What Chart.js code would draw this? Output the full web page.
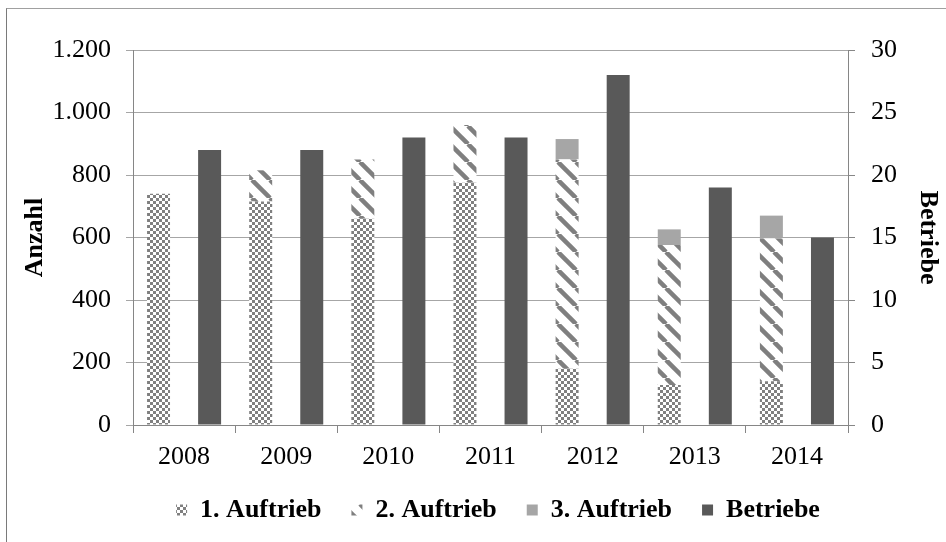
<!DOCTYPE html>
<html>
<head>
<meta charset="utf-8">
<title>Auftrieb und Betriebe 2008-2014</title>
<script src="https://cdn.jsdelivr.net/npm/chart.js@4.4.1/dist/chart.umd.min.js"></script>
<style>
    html, body { margin: 0; padding: 0; background: #fff; }
    #wrap { position: relative; width: 946px; height: 542px; overflow: hidden; }
    #frame {
        position: absolute; left: 6px; top: 8px; width: 960px; height: 560px;
        border-left: 1px solid #7a7a7a; border-top: 1px solid #a0a0a0;
        pointer-events: none;
    }
</style>
</head>
<body>
<div id="wrap">
    <canvas id="myChart" width="946" height="542"></canvas>
    <div id="frame"></div>
</div>
<script>
// data
const years = ['2008', '2009', '2010', '2011', '2012', '2013', '2014'];
const auftrieb1 = [740, 715, 660, 775, 180, 128, 140];
const auftrieb2 = [0, 100, 190, 185, 670, 448, 457];
const auftrieb3 = [0, 0, 0, 0, 65, 50, 73];
const betriebe = [22, 22, 23, 23, 28, 19, 15];
const anzahlTicks = ['0', '200', '400', '600', '800', '1.000', '1.200'];
const betriebeTicks = ['0', '5', '10', '15', '20', '25', '30'];

const FONT = '"Liberation Serif", "Times New Roman", serif';
const FONT_SIZE = 26;

//checkerboard fill like the excel pattern
function checkerPattern(ctx) {
    const c = document.createElement('canvas');
    c.width = 6; c.height = 6;
    const g = c.getContext('2d');
    g.fillStyle = '#ffffff';
    g.fillRect(0, 0, 6, 6);
    g.fillStyle = '#808080';
    g.fillRect(0, 0, 3, 3);
    g.fillRect(3, 3, 3, 3);
    return ctx.createPattern(c, 'repeat');
}

//wide downward diagonal stripes
function stripePattern(ctx) {
    const s = 18;
    const c = document.createElement('canvas');
    c.width = s; c.height = s;
    const g = c.getContext('2d');
    g.fillStyle = '#ffffff';
    g.fillRect(0, 0, s, s);
    g.strokeStyle = '#7f7f7f';
    g.lineWidth = 4.5;
    [-s, 0, s].forEach(function (x0) {
        g.beginPath();
        g.moveTo(x0, 0);
        g.lineTo(x0 + s, s);
        g.stroke();
    });
    return ctx.createPattern(c, 'repeat');
}

const ctx = document.getElementById('myChart').getContext('2d');

// right padding is negative so the legend sits a bit right of centre, like the original
const myChart = new Chart(ctx, {
    type: 'bar',
    data: {
        labels: years,
        datasets: [
            { label: '1. Auftrieb', data: auftrieb1, backgroundColor: checkerPattern(ctx), stack: 'auftrieb', yAxisID: 'y' },
            { label: '2. Auftrieb', data: auftrieb2, backgroundColor: stripePattern(ctx), stack: 'auftrieb', yAxisID: 'y' },
            { label: '3. Auftrieb', data: auftrieb3, backgroundColor: '#a6a6a6', stack: 'auftrieb', yAxisID: 'y' },
            { label: 'Betriebe', data: betriebe, backgroundColor: '#595959', stack: 'betriebe', yAxisID: 'y1' }
        ]
    },
    options: {
        responsive: false,
        animation: false,
        categoryPercentage: 1.0,
        barPercentage: 0.45,
        borderWidth: 0,
        layout: { padding: { left: 16, right: -34, top: 50, bottom: 9 } },
        plugins: {
            legend: {
                position: 'bottom',
                labels: {
                    boxWidth: 11,
                    boxHeight: 11,
                    padding: 30,
                    color: '#000',
                    font: { family: FONT, size: FONT_SIZE, weight: 'bold' }
                }
            },
            tooltip: { enabled: false }
        },
        scales: {
            x: {
                stacked: true,
                grid: { offset: true, drawOnChartArea: false, color: '#868686', tickLength: 8 },
                border: { color: '#868686' },
                ticks: { color: '#000', padding: 9, font: { family: FONT, size: FONT_SIZE } },
                afterFit: function (s) { s.height = 42; }
            },
            y: {
                position: 'left',
                stacked: true,
                min: 0,
                max: 1200,
                ticks: {
                    stepSize: 200,
                    padding: 15,
                    color: '#000',
                    font: { family: FONT, size: FONT_SIZE },
                    callback: function (v, i) { return anzahlTicks[i]; }
                },
                grid: { color: '#a6a6a6', tickLength: 7 },
                border: { color: '#868686' },
                title: { display: true, text: 'Anzahl', color: '#000', font: { family: FONT, size: FONT_SIZE, weight: 'bold' } },
                afterFit: function (s) { s.width = 117; }
            },
            y1: {
                position: 'right',
                min: 0,
                max: 30,
                ticks: {
                    stepSize: 5,
                    padding: 16,
                    color: '#000',
                    font: { family: FONT, size: FONT_SIZE },
                    callback: function (v, i) { return betriebeTicks[i]; }
                },
                grid: { drawOnChartArea: false, color: '#868686', tickLength: 7 },
                border: { color: '#868686' },
                title: {
                    display: true, text: 'Betriebe', color: '#000',
                    padding: { top: 37, bottom: 4 },
                    font: { family: FONT, size: FONT_SIZE, weight: 'bold' }
                },
                afterFit: function (s) { s.width = 132; }
            }
        }
    }
});
</script>
</body>
</html>
